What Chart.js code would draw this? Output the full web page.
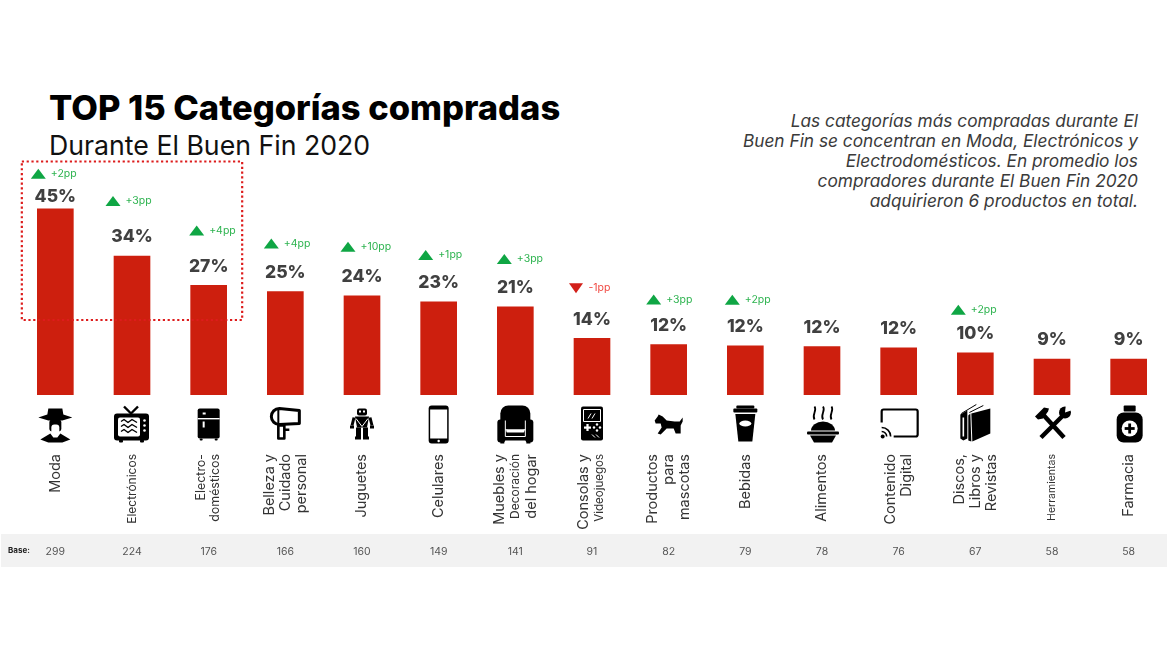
<!DOCTYPE html>
<html>
<head>
<meta charset="utf-8">
<style>
  html, body { margin: 0; padding: 0; background: #fff; }
  #wrap { position: relative; width: 1171px; height: 657px; overflow: hidden; }
  #myChart { position: absolute; left: 0; top: 0; }
  .txt { position: absolute; white-space: nowrap; font-family: Inter, sans-serif; }
  #title { left: 49px; top: 87px; font-size: 34.5px; font-weight: 800; color: #000; }
  #subtitle { left: 49px; top: 129px; font-size: 26.7px; font-weight: 400; color: #111; }
  #note { right: 33px; top: 111px; text-align: right; font-size: 17.3px; line-height: 20px; font-style: italic; color: #3a3a3a; }
</style>
<script src="https://cdn.jsdelivr.net/npm/chart.js@4"></script>
</head>
<body>
<div id="wrap">
  <div class="txt" id="title">TOP 15 Categorías compradas</div>
  <div class="txt" id="subtitle">Durante El Buen Fin 2020</div>
  <div class="txt" id="note">Las categorías más compradas durante El<br>Buen Fin se concentran en Moda, Electrónicos y<br>Electrodomésticos. En promedio los<br>compradores durante El Buen Fin 2020<br>adquirieron 6 productos en total.</div>
  <canvas id="myChart" width="1171" height="657"></canvas>
</div>
<script>
var categories = [
    'Moda', 'Electrónicos', ['Electro-', 'domésticos'], ['Belleza y', 'Cuidado', 'personal'], 'Juguetes',
    'Celulares', ['Muebles y', 'Decoración', 'del hogar'], ['Consolas y', 'Videojuegos'], ['Productos', 'para', 'mascotas'],
    'Bebidas', 'Alimentos', ['Contenido', 'Digital'], ['Discos,', 'Libros y', 'Revistas'], 'Herramientas', 'Farmacia'
];
var values = [45, 33.6, 26.5, 25, 24, 22.5, 21.3, 13.7, 12.2, 11.9, 11.7, 11.4, 10.2, 8.7, 8.7];
var valueLabels = ['45%', '34%', '27%', '25%', '24%', '23%', '21%', '14%', '12%', '12%', '12%', '12%', '10%', '9%', '9%'];
var deltas = ['+2pp', '+3pp', '+4pp', '+4pp', '+10pp', '+1pp', '+3pp', '-1pp', '+3pp', '+2pp', null, null, '+2pp', null, null];
var bases = [299, 224, 176, 166, 160, 149, 141, 91, 82, 79, 78, 76, 67, 58, 58];

// layout of the loose annotations, px
var FONT = 'Inter, sans-serif';
var labelLift = [13, 20, 20, 20, 20, 20, 20, 20, 20, 20, 20, 20, 20, 20, 20];
var arrowLift = [35, 55, 55, 48, 49, 47, 48, 50, 45, 46, 0, 0, 43, 0, 0];
var arrowShift = [-17, -19, -12, -14, -14, -13, -11, -16, -15, -13, 0, 0, -17, 0, 0];
var iconShift = [0, 0, 0, 0, 0, 0, 0, 0, 0, 0, 1, 1, 1, 0, 1];
var LABEL_TOP = 454;
var LABEL_GAP = 16;
var labelGaps = { 2: 14 };
// label font sizes: a number for the whole label, a list for line by line
var labelSizes = { 1: 12, 2: 12.4, 6: [14.5, 12, 14.5], 7: [14.5, 11.5], 13: 10.5 };

function fillPoly(ctx, pts) {
    ctx.beginPath();
    ctx.moveTo(pts[0], pts[1]);
    for (var i = 2; i < pts.length; i += 2) ctx.lineTo(pts[i], pts[i + 1]);
    ctx.closePath();
    ctx.fill();
}
function box(ctx, x, y, w, h, r) {
    ctx.beginPath();
    ctx.roundRect(x, y, w, h, r);
    ctx.fill();
}
function dot(ctx, x, y, r) {
    ctx.beginPath();
    ctx.arc(x, y, r, 0, Math.PI * 2);
    ctx.fill();
}
function white(ctx, fn) {
    ctx.fillStyle = '#fff'; ctx.strokeStyle = '#fff';
    fn();
    ctx.fillStyle = '#000'; ctx.strokeStyle = '#000';
}
function line(ctx, pts, w) {
    ctx.lineWidth = w;
    ctx.beginPath();
    ctx.moveTo(pts[0], pts[1]);
    for (var i = 2; i < pts.length; i += 2) ctx.lineTo(pts[i], pts[i + 1]);
    ctx.stroke();
}

// pictograms, drawn around (0,0)
var icons = [
    function (c) { // hat and face
        fillPoly(c, [-17, -7, -8, -10, -7, -16, 7, -16, 8, -10, 17, -7, 7, -4, -7, -4]);
        box(c, -6, -5, 12, 12, 3);
        white(c, function () { box(c, -4, 0, 8, 10, 3); });
        fillPoly(c, [-5, 9, -2, 13, 2, 13, 5, 9, 15, 15, 7, 18, -7, 18, -15, 15]);
    },
    function (c) { // tv
        line(c, [-8, -18, -1, -11, 6, -18], 2.4);
        box(c, -18, -11, 35, 27, 3);
        box(c, -13, 15, 4, 3, 1); box(c, 8, 15, 4, 3, 1);
        white(c, function () {
            box(c, -14, -7, 22, 19, 2);
            dot(c, 12.5, -4, 1.3); dot(c, 12.5, 1, 1.3); dot(c, 12.5, 6, 1.3);
        });
        for (var k = 0; k < 3; k++) line(c, [-11, -3 + k * 5, -8, -5 + k * 5, -4, -2 + k * 5, 0, -5 + k * 5, 5, -2 + k * 5], 1.4);
    },
    function (c) { // fridge
        box(c, -11, -16, 22, 30, 2);
        box(c, -9, 14, 3, 2, 1); box(c, 6, 14, 3, 2, 1);
        white(c, function () {
            c.fillRect(-11, -6.5, 22, 1.4);
            c.fillRect(-6, -12, 3, 2);
            c.fillRect(-6, -3, 2, 6);
        });
    },
    function (c) { // hair dryer
        c.lineWidth = 3;
        c.beginPath();
        c.moveTo(14, -14); c.lineTo(-6, -16);
        c.arc(-6, -8, 8, -Math.PI / 2, Math.PI / 2, true);
        c.lineTo(14, -1); c.closePath();
        c.stroke();
        line(c, [-7, -16, -7, 0], 2);
        c.lineWidth = 2.6;
        c.strokeRect(-7, 1, 6, 13);
        c.fillRect(-1, 4, 5, 2.5);
    },
    function (c) { // robot
        box(c, -5, -16, 10, 7, 2);
        white(c, function () { c.fillRect(-3, -14, 2, 2); c.fillRect(1, -14, 2, 2); });
        fillPoly(c, [-7, -8, 7, -8, 5, 3, -5, 3]);
        white(c, function () { line(c, [-6, -6, 0, 2, 6, -6], 1); });
        line(c, [-8, -7, -10, 1], 3); line(c, [8, -7, 10, 1], 3);
        c.fillRect(-12, 1, 4, 3); c.fillRect(8, 1, 4, 3);
        c.fillRect(-6, 3, 5, 11); c.fillRect(1, 3, 5, 11);
        c.fillRect(-7, 12, 6, 3); c.fillRect(1, 12, 6, 3);
    },
    function (c) { // phone
        box(c, -10, -19, 20, 38, 3);
        white(c, function () {
            c.fillRect(-8.5, -15, 17, 29);
            dot(c, 0, 16.5, 1.2);
        });
    },
    function (c) { // armchair
        box(c, -15, -19, 30, 24, 8);
        box(c, -18, -5, 8, 23, 3);
        box(c, 10, -5, 8, 23, 3);
        c.fillRect(-11, 6, 22, 10);
        c.fillRect(-15, 15, 4, 4); c.fillRect(11, 15, 4, 4);
        white(c, function () {
            line(c, [-10, -4, -10, 12, 10, 12, 10, -4], 1);
            box(c, -9, 5, 18, 3, 1);
        });
    },
    function (c) { // handheld console
        box(c, -11, -18, 22, 34, 2);
        white(c, function () {
            c.lineWidth = 1;
            c.strokeRect(-8.5, -15, 17, 12);
            c.fillRect(-8, 2, 7, 2.2); c.fillRect(-5.6, -0.5, 2.2, 7);
            dot(c, 5, 0, 1.2); dot(c, 8, 3, 1.2); dot(c, 2, 3, 1.2); dot(c, 5, 6, 1.2);
            line(c, [-4, -6, -1, -11], 1); line(c, [0, -6, 3, -11], 1);
            line(c, [0, 10, 3, 13], 1); line(c, [4, 10, 7, 13], 1);
        });
    },
    function (c) { // dog
        fillPoly(c, [-14, -4, -11, -8, -10, -10, -6, -8, -2, -4, 6, -3, 11, -3, 14, -7, 14, -3, 12, 1, 12, 9, 7, 9, 5, 4, -2, 4, -8, 10, -11, 9, -7, 3, -8, -1, -13, -1]);
    },
    function (c) { // coffee cup
        box(c, -9, -19, 18, 3, 1);
        box(c, -12, -16, 24, 4, 1);
        fillPoly(c, [-10, -10.5, 10, -10.5, 7, 17, -7, 17]);
        white(c, function () { c.beginPath(); c.ellipse(0, -1, 6, 3, 0, 0, Math.PI * 2); c.fill(); });
    },
    function (c) { // hot dish
        box(c, -16, 7, 32, 3, 1);
        c.beginPath(); c.ellipse(0, 6, 12, 9, 0, Math.PI, 0); c.fill();
        fillPoly(c, [-13, 11, 13, 11, 9, 18, -9, 18]);
        for (var k = -1; k < 2; k++) {
            c.lineWidth = 1.8;
            c.beginPath(); c.moveTo(k * 8.5, -18);
            c.bezierCurveTo(k * 8.5 + 3, -14, k * 8.5 - 3, -10, k * 8.5, -5);
            c.stroke();
        }
    },
    function (c) { // cast screen
        c.lineWidth = 2.2;
        c.beginPath();
        c.moveTo(-18, -2); c.lineTo(-18, -13); c.arcTo(-18, -15, -16, -15, 2); c.lineTo(16, -15);
        c.arcTo(18, -15, 18, -13, 2); c.lineTo(18, 10); c.arcTo(18, 12, 16, 12, 2); c.lineTo(-6, 12);
        c.stroke();
        dot(c, -17, 12, 2);
        c.lineWidth = 1.6;
        c.beginPath(); c.arc(-18, 12, 5, -Math.PI / 2, 0); c.stroke();
        c.beginPath(); c.arc(-18, 12, 9, -Math.PI / 2, 0); c.stroke();
    },
    function (c) { // books
        fillPoly(c, [-16, -10, -9, -14, -9, 14, -13, 16, -16, 14]);
        white(c, function () { line(c, [-13, -7, -13, 12], 1.6); });
        fillPoly(c, [-8, -9, -6, -11, -5, 17, -8, 16]);
        fillPoly(c, [-5, -11, 14, -16, 14, 9, -4, 17]);
        line(c, [-15, -11, 0, -20], 1);
        line(c, [-7, -12, 7, -19], 1);
    },
    function (c) { // tools
        line(c, [-9, -10, 12, 13], 4.5);
        line(c, [13, -11, -11, 13], 4.5);
        fillPoly(c, [-17, -8, -8, -17, -3, -16, -4, -13, -9, -6, -14, -5]);
        dot(c, 13, -12, 6);
        white(c, function () { fillPoly(c, [14, -21, 22, -15, 13, -12]); });
    },
    function (c) { // medicine bottle
        box(c, -6, -19, 12, 6, 1);
        box(c, -13, -12, 26, 30, 7);
        white(c, function () { dot(c, 0, 4, 8); });
        c.fillRect(-1.4, -1, 2.8, 10); c.fillRect(-5, 2.6, 10, 2.8);
    }
];

// rotated category labels, hung from LABEL_TOP and centred on the scale's ticks
function drawCategoryLabels(ctx, x) {
    categories.forEach(function (cat, i) {
        var lines = [].concat(cat);
        var gap = labelGaps[i] || LABEL_GAP;
        lines.forEach(function (text, n) {
            var size = [].concat(labelSizes[i] || 14.5);
            ctx.save();
            ctx.translate(x.getPixelForTick(i) + (n - (lines.length - 1) / 2) * gap, LABEL_TOP);
            ctx.rotate(-Math.PI / 2);
            ctx.fillStyle = '#333';
            ctx.font = (size[n] || size[0]) + 'px ' + FONT;
            ctx.textAlign = 'right';
            ctx.textBaseline = 'middle';
            ctx.fillText(text, 0, 0);
            ctx.restore();
        });
    });
}

var annotations = {
    id: 'annotations',
    beforeDatasetsDraw: function (chart) {
        var ctx = chart.ctx;
        var x = chart.scales.x;
        ctx.save();
        ctx.fillStyle = '#f2f2f2';
        ctx.fillRect(1, 534, 1166, 33);
        ctx.fillStyle = '#222';
        ctx.font = 'bold 8px ' + FONT;
        ctx.textAlign = 'left';
        ctx.textBaseline = 'middle';
        ctx.fillText('Base:', 8, 551);
        ctx.fillStyle = '#555';
        ctx.font = '10.5px ' + FONT;
        ctx.textAlign = 'center';
        bases.forEach(function (b, i) {
            ctx.fillText(String(b), x.getPixelForTick(i), 552);
        });
        icons.forEach(function (draw, i) {
            ctx.save();
            ctx.translate(x.getPixelForTick(i) + iconShift[i], 424.5);
            ctx.fillStyle = '#000';
            ctx.strokeStyle = '#000';
            ctx.lineJoin = 'round';
            draw(ctx);
            ctx.restore();
        });
        drawCategoryLabels(ctx, x);
        ctx.restore();
    },
    afterDatasetsDraw: function (chart) {
        var ctx = chart.ctx;
        var x = chart.scales.x;
        var y = chart.scales.y;
        ctx.save();
        values.forEach(function (v, i) {
            var px = x.getPixelForTick(i);
            var top = y.getPixelForValue(v);
            ctx.fillStyle = '#404040';
            ctx.font = '800 17.5px ' + FONT;
            ctx.textAlign = 'center';
            ctx.textBaseline = 'middle';
            ctx.fillText(valueLabels[i], px, top - labelLift[i] + 1);
            if (!deltas[i]) return;
            var up = deltas[i].charAt(0) === '+';
            var ax = px + arrowShift[i];
            var ay = top - arrowLift[i];
            ctx.fillStyle = up ? '#0fa644' : '#d2201a';
            ctx.beginPath();
            if (up) { ctx.moveTo(ax - 7.5, ay + 5); ctx.lineTo(ax + 7.5, ay + 5); ctx.lineTo(ax, ay - 5); }
            else { ctx.moveTo(ax - 7, ay - 5); ctx.lineTo(ax + 7, ay - 5); ctx.lineTo(ax, ay + 5); }
            ctx.closePath();
            ctx.fill();
            ctx.fillStyle = up ? '#2db34f' : '#f04a43';
            ctx.font = '10.5px ' + FONT;
            ctx.textAlign = 'left';
            ctx.fillText(deltas[i], ax + 12.5, ay);
        });
        // dotted box around the top three
        ctx.strokeStyle = '#dd1c1c';
        ctx.lineWidth = 2.2;
        ctx.setLineDash([2.2, 2.6]);
        ctx.strokeRect(x.getPixelForTick(0) - 33.5, 161.5, x.getPixelForTick(2) - x.getPixelForTick(0) + 67, 158.5);
        ctx.restore();
    }
};

var myChart = new Chart(document.getElementById('myChart'), {
    type: 'bar',
    data: {
        labels: categories,
        datasets: [{
            label: 'Categorías',
            data: values,
            backgroundColor: '#cd1f0e',
            barThickness: 36
        }]
    },
    options: {
        responsive: false,
        animation: false,
        events: [],
        layout: { padding: { left: 17, right: 4, top: 0, bottom: 0 } },
        plugins: { legend: { display: false }, tooltip: { enabled: false } },
        scales: {
            x: {
                grid: { display: false },
                border: { display: false },
                ticks: { display: false },
                afterFit: function (scale) {
                    scale.height = 262;
                    scale.paddingLeft = 0;
                    scale.paddingRight = 0;
                }
            },
            y: { display: false, min: 0, max: 95.5 }
        }
    },
    plugins: [annotations]
});
</script>
</body>
</html>
